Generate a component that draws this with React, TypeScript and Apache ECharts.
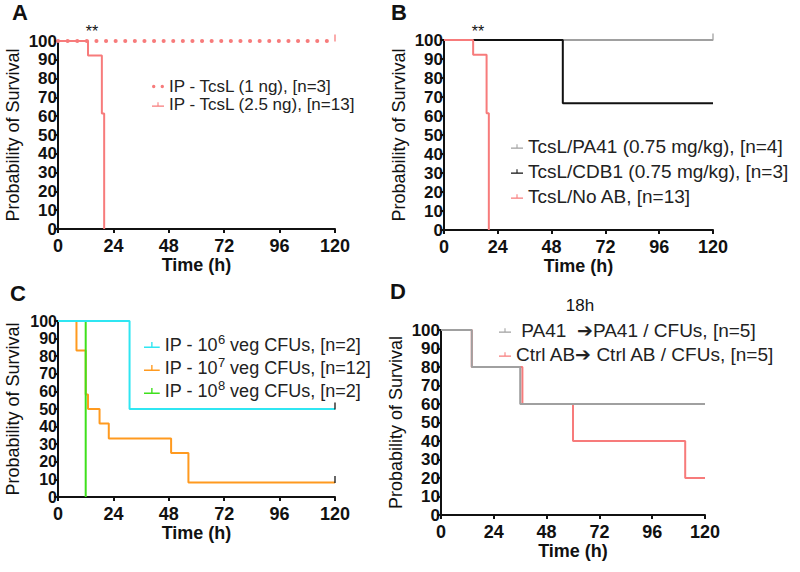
import React, { useEffect, useRef } from "react";
import * as echarts from "echarts";

// ---- data ----
const xTicks = [0, 24, 48, 72, 96, 120];
const yTicks = [0, 10, 20, 30, 40, 50, 60, 70, 80, 90, 100];

// Panel A
const aNames = ["IP - TcsL (1 ng), [n=3]", "IP - TcsL (2.5 ng), [n=13]"];
const aTime1 = [0, 120];
const aSurv1 = [100, 100];
const aTime2 = [0, 13, 19, 20];
const aSurv2 = [100, 92.3, 61.5, 0];

// Panel B
const bNames = ["TcsL/PA41 (0.75 mg/kg), [n=4]", "TcsL/CDB1 (0.75 mg/kg), [n=3]", "TcsL/No AB, [n=13]"];
const bTime1 = [0, 120];
const bSurv1 = [100, 100];
const bTime2 = [0, 53, 120];
const bSurv2 = [100, 66.7, 66.7];
const bTime3 = [0, 13, 19, 20];
const bSurv3 = [100, 92.3, 61.5, 0];

// Panel C
const cNames = ["IP - 10^6 veg CFUs, [n=2]", "IP - 10^7 veg CFUs, [n=12]", "IP - 10^8 veg CFUs, [n=2]"];
const cTime1 = [0, 31, 120];
const cSurv1 = [100, 50, 50];
const cTime2 = [0, 8, 12, 13, 18, 22, 49, 56.5, 120];
const cSurv2 = [100, 83.3, 58.3, 50, 41.7, 33.3, 25, 8.3, 8.3];
const cTime3 = [0, 12];
const cSurv3 = [100, 0];

// Panel D
const dNames = [" PA41  ➔PA41 / CFUs, [n=5]", "Ctrl AB➔ Ctrl AB / CFUs, [n=5]"];
const dTime1 = [0, 14, 36, 120];
const dSurv1 = [100, 80, 60, 60];
const dTime2 = [0, 14, 37, 60, 111, 120];
const dSurv2 = [100, 80, 60, 40, 20, 20];

const RED = "#f77b7b";
const GREY = "#a0a0a0";
const BLACK = "#111111";
const CYAN = "#2fe6f2";
const ORANGE = "#ff9a1f";
const GREEN = "#3ee01c";

const FONT = "Liberation Sans, Arial, sans-serif";

const zip = (t: number[], s: number[]) => t.map((v, i) => [v, s[i]]);

const tickIcon = "path://M0,5L16,5L16,6.6L0,6.6Z M7.3,0.5L8.7,0.5L8.7,5L7.3,5Z";
const dotsIcon = "path://M1,4a2,2 0 1,0 4,0a2,2 0 1,0 -4,0Z M11,4a2,2 0 1,0 4,0a2,2 0 1,0 -4,0Z";

export default function App() {
  const ref = useRef<HTMLDivElement>(null);
  useEffect(() => {
    if (!ref.current) return;
    const chart = echarts.init(ref.current, undefined, { renderer: "svg" });

    const grids = [
      { left: 58, top: 41, width: 277, height: 188 },
      { left: 444, top: 40, width: 269, height: 190 },
      { left: 58, top: 321, width: 277, height: 176 },
      { left: 441, top: 330, width: 264, height: 185 },
    ];
    const yFont = [17, 17, 16, 17];

    const xAxis = grids.map((_, i) => ({
      type: "value",
      gridIndex: i,
      min: 0,
      max: 120,
      interval: 24,
      name: "Time (h)",
      nameLocation: "middle",
      nameGap: 23,
      nameTextStyle: { fontFamily: FONT, fontWeight: "bold", fontSize: 18, color: "#111" },
      axisLine: { lineStyle: { color: "#111", width: 2 } },
      axisTick: { show: true, length: 4, lineStyle: { color: "#111", width: 2 } },
      axisLabel: { fontFamily: FONT, fontWeight: "bold", fontSize: 18, color: "#111", margin: 8, hideOverlap: false },
      splitLine: { show: false },
    }));

    const yAxis = grids.map((_, i) => ({
      type: "value",
      gridIndex: i,
      min: 0,
      max: 100,
      interval: 10,
      name: "Probability of Survival",
      nameLocation: "middle",
      nameGap: 36,
      nameTextStyle: { fontFamily: FONT, fontSize: 18, color: "#111" },
      axisLine: { show: true, lineStyle: { color: "#111", width: 2 } },
      axisTick: { show: true, length: 4, lineStyle: { color: "#111", width: 2 } },
      axisLabel: {
        fontFamily: FONT,
        fontWeight: "bold",
        fontSize: yFont[i],
        lineHeight: yFont[i] - 1,
        color: "#111",
        margin: 1,
        hideOverlap: false,
        showMinLabel: true,
        showMaxLabel: true,
      },
      splitLine: { show: false },
    }));

    const step = (name: string, idx: number, t: number[], s: number[], color: string) => ({
      type: "line",
      name,
      xAxisIndex: idx,
      yAxisIndex: idx,
      step: "end",
      symbol: "none",
      data: zip(t, s),
      lineStyle: { color, width: 2 },
      itemStyle: { color },
      z: 2,
    });

    const cens = (idx: number, x: number, y: number, color: string) => ({
      type: "scatter",
      xAxisIndex: idx,
      yAxisIndex: idx,
      symbol: "rect",
      symbolSize: [1.6, 7],
      symbolOffset: [0, -3],
      itemStyle: { color },
      data: [[x, y]],
      silent: true,
      z: 3,
    });

    const legendText = { fontFamily: FONT, color: "#222" };

    const txt = (text: string, x: number, y: number, font: string) => ({
      type: "text",
      x,
      y,
      style: { text, font, fill: "#111", align: "center", verticalAlign: "middle" },
    });

    const option: any = {
      animation: false,
      backgroundColor: "#fff",
      grid: grids,
      xAxis,
      yAxis,
      legend: [
        {
          data: [
            { name: aNames[0], icon: dotsIcon },
            { name: aNames[1], icon: tickIcon },
          ],
          orient: "vertical",
          left: 147,
          top: 73,
          itemWidth: 12,
          itemHeight: 6,
          itemGap: 1,
          textStyle: { ...legendText, fontSize: 17 },
          selectedMode: false,
        },
        {
          data: bNames.map((n) => ({ name: n, icon: tickIcon })),
          orient: "vertical",
          left: 506,
          top: 132,
          itemWidth: 12,
          itemHeight: 6,
          itemGap: 6,
          textStyle: { ...legendText, fontSize: 19 },
          selectedMode: false,
        },
        {
          data: cNames.map((n) => ({ name: n, icon: tickIcon })),
          orient: "vertical",
          left: 139,
          top: 328,
          itemWidth: 16,
          itemHeight: 6,
          itemGap: 1,
          formatter: (name: string) => {
            const m = name.match(/^(.*?)\^(\d)(.*)$/);
            if (!m) return name;
            return m[1] + "{sup|" + m[2] + "}" + m[3];
          },
          textStyle: {
            ...legendText,
            fontSize: 18,
            lineHeight: 20,
            rich: {
              sup: { fontFamily: FONT, fontSize: 13, color: "#222", verticalAlign: "bottom", lineHeight: 13, padding: [0, 0, 9, 0] },
            },
          },
          selectedMode: false,
        },
        {
          data: dNames.map((n) => ({ name: n, icon: tickIcon })),
          orient: "vertical",
          left: 494,
          top: 316,
          itemWidth: 12,
          itemHeight: 6,
          itemGap: 5,
          textStyle: { ...legendText, fontSize: 19 },
          selectedMode: false,
        },
      ],
      series: [
        // A
        step(aNames[1], 0, aTime2, aSurv2, RED),
        {
          ...step(aNames[0], 0, aTime1, aSurv1, RED),
          step: false,
          lineStyle: { color: RED, width: 4, type: [0.1, 9.5], cap: "round" },
          z: 3,
        },
        cens(0, 120, 100, RED),
        // B
        step(bNames[0], 1, bTime1, bSurv1, GREY),
        step(bNames[1], 1, bTime2, bSurv2, BLACK),
        step(bNames[2], 1, bTime3, bSurv3, RED),
        cens(1, 120, 100, GREY),
        // C
        step(cNames[1], 2, cTime2, cSurv2, ORANGE),
        step(cNames[2], 2, cTime3, cSurv3, GREEN),
        step(cNames[0], 2, cTime1, cSurv1, CYAN),
        cens(2, 120, 50, BLACK),
        cens(2, 120, 8.3, BLACK),
        // D
        step(dNames[1], 3, dTime2, dSurv2, RED),
        step(dNames[0], 3, dTime1, dSurv1, GREY),
      ],
      graphic: [
        txt("A", 20, 12, "bold 22px " + FONT),
        txt("B", 399, 12, "bold 22px " + FONT),
        txt("C", 18, 293, "bold 22px " + FONT),
        txt("D", 398, 291, "bold 22px " + FONT),
        txt("**", 92, 31, "16px " + FONT),
        txt("**", 478, 31, "16px " + FONT),
        txt("18h", 580, 305, "17px " + FONT),
      ],
    };

    chart.setOption(option);
    return () => chart.dispose();
  }, []);

  return (
    <div
      ref={ref}
      style={{ position: "absolute", left: 0, top: 0, width: 800, height: 572 }}
    />
  );
}
